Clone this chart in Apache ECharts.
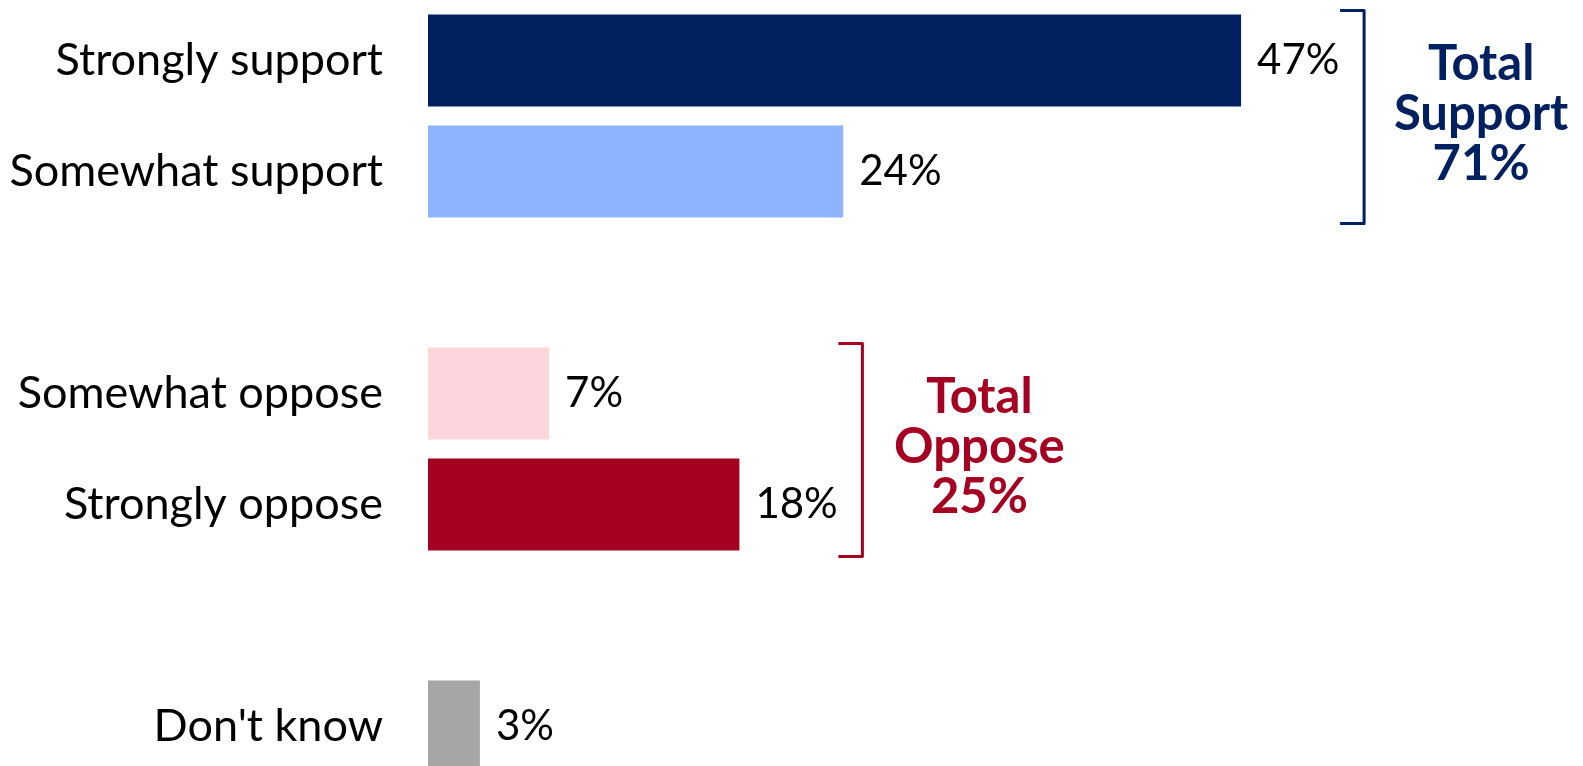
<!DOCTYPE html>
<html>
<head>
<meta charset="UTF-8">
<title>Support / Oppose</title>
<style>
  html, body { margin: 0; padding: 0; background: #fff; }
  #main { width: 1583px; height: 766px; }
</style>
</head>
<body>
<div id="main"></div>
<script src="https://cdn.jsdelivr.net/npm/echarts@6/dist/echarts.min.js"></script>
<script>
// categories (empty strings are the gaps between groups)
var categories = ['Strongly support', 'Somewhat support', '', 'Somewhat oppose', 'Strongly oppose', '', "Don't know"];
var values = [47, 24, null, 7, 18, null, 3];
var barColors = ['#002060', '#8FB4FF', '#fff', '#FFD5DD', '#A50021', '#fff', '#A6A6A6'];

// bracket groups: rows covered and the total shown beside
var groupRows = [[0, 1], [3, 4]];
var groupTitles = ['Total\nSupport', 'Total\nOppose'];
var groupTotals = [71, 25];
var groupColors = ['#002060', '#A50021'];

var chart = echarts.init(document.getElementById('main'));

chart.setOption({
  animation: false,
  grid: { left: 428, top: 5, width: 1038, height: 777, outerBoundsMode: 'none' },
  xAxis: { type: 'value', min: 0, max: 60, show: false },
  yAxis: {
    type: 'category',
    inverse: true,
    data: categories,
    axisLine: { show: false },
    axisTick: { show: false },
    axisLabel: { color: '#000', fontFamily: 'Lato', fontSize: 45, margin: 45 }
  },
  series: [{
    type: 'bar',
    barCategoryGap: '17%',
    data: values.map(function (v, i) {
      return { value: v, itemStyle: { color: barColors[i] } };
    }),
    label: {
      show: true,
      position: 'right',
      distance: 16,
      color: '#000',
      fontFamily: 'Lato',
      fontSize: 42,
      formatter: function (p) { return p.value == null ? '' : p.value + '%'; }
    }
  }]
});

// brackets + totals, placed from the axes
var graphics = [];
groupRows.forEach(function (rows, g) {
  var maxV = Math.max.apply(null, rows.map(function (r) { return values[r]; }));
  var x = chart.convertToPixel({ gridIndex: 0 }, [maxV, 0])[0] + 123;
  var y0 = chart.convertToPixel({ yAxisIndex: 0 }, categories[rows[0]]) - 50;
  var y1 = chart.convertToPixel({ yAxisIndex: 0 }, categories[rows[rows.length - 1]]) + 52;
  graphics.push({
    type: 'polyline',
    shape: { points: [[x - 24, y0], [x, y0], [x, y1], [x - 24, y1]] },
    style: { stroke: groupColors[g], lineWidth: 3, fill: null, lineJoin: 'round' }
  });
  graphics.push({
    type: 'text',
    x: x + 117,
    y: (y0 + y1) / 2 - 3,
    style: {
      text: groupTitles[g] + '\n' + groupTotals[g] + '%',
      fill: groupColors[g],
      font: 'bold 49px Lato',
      lineHeight: 50,
      align: 'center',
      verticalAlign: 'middle'
    }
  });
});
chart.setOption({ graphic: graphics });

window.addEventListener('resize', function () {
  chart.resize();
});
</script>
</body>
</html>
